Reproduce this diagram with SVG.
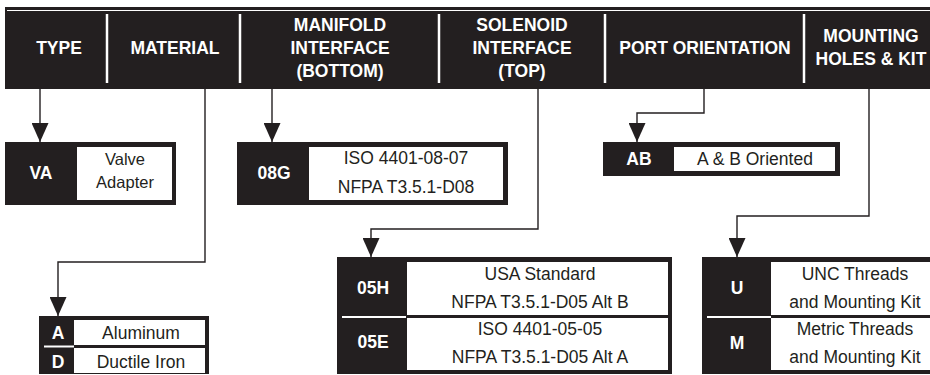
<svg xmlns="http://www.w3.org/2000/svg" width="930" height="375" viewBox="0 0 930 375">
<defs>
<marker id="arr" markerUnits="userSpaceOnUse" markerWidth="19" markerHeight="17" refX="19" refY="8.5" orient="auto" viewBox="0 0 19 17">
<path d="M0,0 L19,8.5 L0,17 Z" fill="#231f20"/>
</marker>
<style>
.blk{fill:#231f20}
.wht{fill:#ffffff}
.hdr{font-family:"Liberation Sans",Arial,sans-serif;font-weight:bold;font-size:17.5px;fill:#ffffff;text-anchor:middle}
.code{font-family:"Liberation Sans",Arial,sans-serif;font-weight:bold;font-size:17.5px;fill:#ffffff;text-anchor:middle}
.txt{font-family:"Liberation Sans",Arial,sans-serif;font-size:17.5px;fill:#231f20;text-anchor:middle}
.sep{stroke:#ffffff;stroke-width:2.5}
.con{fill:none;stroke:#231f20;stroke-width:1.4;marker-end:url(#arr)}
</style>
</defs>
<g id="header">
<rect class="blk" x="5" y="7" width="925" height="82"/>
<line x1="7" y1="10.5" x2="930" y2="10.5" stroke="#ffffff" stroke-width="1.2"/>
<line class="sep" x1="107" y1="14" x2="107" y2="83"/>
<line class="sep" x1="240" y1="14" x2="240" y2="83"/>
<line class="sep" x1="439" y1="14" x2="439" y2="83"/>
<line class="sep" x1="605" y1="14" x2="605" y2="83"/>
<line class="sep" x1="804" y1="14" x2="804" y2="83"/>
<text class="hdr" x="59" y="54">TYPE</text>
<text class="hdr" x="175" y="54">MATERIAL</text>
<text class="hdr" x="340" y="31">MANIFOLD</text>
<text class="hdr" x="340" y="54">INTERFACE</text>
<text class="hdr" x="340" y="77">(BOTTOM)</text>
<text class="hdr" x="522" y="31">SOLENOID</text>
<text class="hdr" x="522" y="54">INTERFACE</text>
<text class="hdr" x="522" y="77">(TOP)</text>
<text class="hdr" x="705" y="54">PORT ORIENTATION</text>
<text class="hdr" x="871" y="42">MOUNTING</text>
<text class="hdr" x="871" y="65">HOLES &amp; KIT</text>
</g>
<g id="connectors">
<path class="con" d="M40,89 V142"/>
<path class="con" d="M205,89 V262 H58 V316"/>
<path class="con" d="M272,89 V142"/>
<path class="con" d="M538,89 V229 H371 V257"/>
<path class="con" d="M704,89 V113 H637 V142"/>
<path class="con" d="M869,89 V216 H737 V257"/>
</g>
<g id="type-box">
<rect class="blk" x="5" y="142" width="171" height="63"/>
<rect class="wht" x="77" y="147" width="95" height="53"/>
<text class="code" x="41" y="179">VA</text>
<text class="txt" x="125" y="165" style="font-size:16.5px">Valve</text>
<text class="txt" x="125" y="188" style="font-size:16.5px">Adapter</text>
</g>
<g id="manifold-box">
<rect class="blk" x="237" y="142" width="271" height="63"/>
<rect class="wht" x="309" y="147" width="194" height="53"/>
<text class="code" x="274" y="179">08G</text>
<text class="txt" x="406" y="164">ISO 4401-08-07</text>
<text class="txt" x="406" y="193">NFPA T3.5.1-D08</text>
</g>
<g id="port-box">
<rect class="blk" x="603" y="142" width="237" height="34"/>
<rect class="wht" x="674" y="147" width="161" height="24"/>
<text class="code" x="639" y="165">AB</text>
<text class="txt" x="755" y="165">A &amp; B Oriented</text>
</g>
<g id="material-box">
<rect class="blk" x="39" y="316" width="170" height="58"/>
<rect class="wht" x="74" y="320" width="131" height="25"/>
<rect class="wht" x="74" y="348" width="131" height="25"/>
<line x1="44" y1="346.5" x2="74" y2="346.5" stroke="#ffffff" stroke-width="2"/>
<text class="code" x="58" y="339">A</text>
<text class="txt" x="141" y="339">Aluminum</text>
<text class="code" x="58" y="368">D</text>
<text class="txt" x="141" y="368">Ductile Iron</text>
</g>
<g id="solenoid-box">
<rect class="blk" x="337" y="257" width="335" height="117"/>
<rect class="wht" x="407" y="262" width="261" height="53"/>
<rect class="wht" x="407" y="318" width="261" height="52"/>
<line x1="342" y1="317" x2="406" y2="317" stroke="#ffffff" stroke-width="2"/>
<text class="code" x="373" y="294">05H</text>
<text class="txt" x="540" y="280">USA Standard</text>
<text class="txt" x="540" y="308">NFPA T3.5.1-D05 Alt B</text>
<text class="code" x="373" y="348">05E</text>
<text class="txt" x="540" y="335">ISO 4401-05-05</text>
<text class="txt" x="540" y="363">NFPA T3.5.1-D05 Alt A</text>
</g>
<g id="mounting-box">
<rect class="blk" x="702" y="257" width="228" height="117"/>
<rect class="wht" x="771" y="262" width="159" height="53"/>
<rect class="wht" x="771" y="318" width="159" height="52"/>
<line x1="707" y1="317" x2="771" y2="317" stroke="#ffffff" stroke-width="2"/>
<text class="code" x="737" y="294">U</text>
<text class="txt" x="855" y="280">UNC Threads</text>
<text class="txt" x="855" y="308">and Mounting Kit</text>
<text class="code" x="737" y="349">M</text>
<text class="txt" x="855" y="335">Metric Threads</text>
<text class="txt" x="855" y="363">and Mounting Kit</text>
</g>
</svg>
